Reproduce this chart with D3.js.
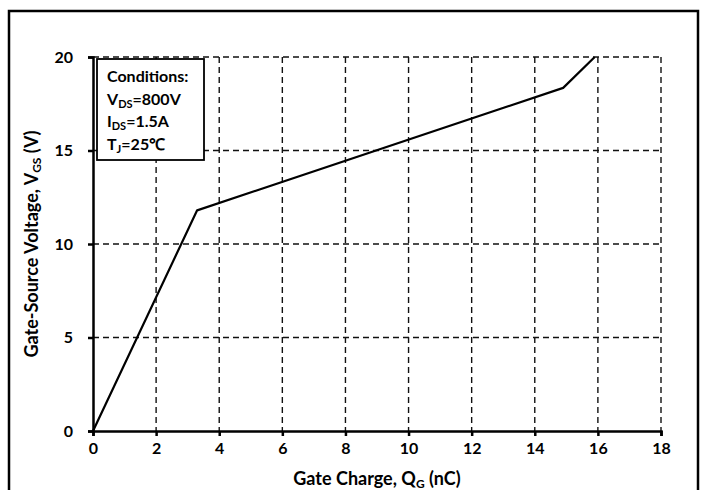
<!DOCTYPE html>
<meta charset="utf-8">
<head>
<style>
  body { margin: 0; background: #fff; }
  text { font-family: Lato, "Open Sans", sans-serif; font-weight: bold; fill: #000; }
</style>
</head>
<body>
<script src="https://d3js.org/d3.v7.min.js"></script>
<script>

// gate charge curve
var qg = [0, 3.3, 14.9, 15.9];
var vgs = [0, 11.8, 18.35, 20];
var xTicks = [0, 2, 4, 6, 8, 10, 12, 14, 16, 18];
var yTicks = [0, 5, 10, 15, 20];
var conditions = [["Conditions:", "", ""], ["V", "DS", "=800V"], ["I", "DS", "=1.5A"], ["T", "J", "=25\u2103"]];

var width = 704, height = 490;
var pLeft = 93, pRight = 661, pTop = 57, pBottom = 431;

var svg = d3.select("body").append("svg")
    .attr("width", width)
    .attr("height", height);

// outer frame (bottom runs off the picture)
svg.append("rect")
  .attr("x", 9).attr("y", 11)
  .attr("width", 689).attr("height", 500)
  .attr("fill", "none").attr("stroke", "#000").attr("stroke-width", 2.5);

var x = d3.scaleLinear().domain([0, 18]).range([pLeft, pRight]);
var y = d3.scaleLinear().domain([0, 20]).range([pBottom, pTop]);

// dashed grid
svg.append("g").selectAll("line")
  .data(xTicks.filter(function(d) { return d > 0; }))
  .enter().append("line")
  .attr("x1", function(d) { return x(d); }).attr("x2", function(d) { return x(d); })
  .attr("y1", pTop).attr("y2", pBottom)
  .attr("stroke", "#111").attr("stroke-width", 1.4).attr("stroke-dasharray", "6,4");

svg.append("g").selectAll("line")
  .data(yTicks.filter(function(d) { return d > 0; }))
  .enter().append("line")
  .attr("x1", pLeft).attr("x2", pRight)
  .attr("y1", function(d) { return y(d); }).attr("y2", function(d) { return y(d); })
  .attr("stroke", "#111").attr("stroke-width", 1.4).attr("stroke-dasharray", "6,4");

// axes
var xAxis = svg.append("g")
  .attr("transform", "translate(0," + pBottom + ")")
  .call(d3.axisBottom(x).tickValues(xTicks).tickSize(5).tickPadding(7));
var yAxis = svg.append("g")
  .attr("transform", "translate(" + pLeft + ",0)")
  .call(d3.axisLeft(y).tickValues(yTicks).tickSize(5).tickPadding(15));

[xAxis, yAxis].forEach(function(a) {
  a.select(".domain").attr("stroke", "#000").attr("stroke-width", 2.5);
  a.selectAll(".tick line").attr("stroke", "#000").attr("stroke-width", 2.5);
  a.selectAll(".tick text").style("font-size", "16px").style("font-family", "Lato, sans-serif")
    .style("font-weight", "bold").attr("fill", "#000");
});

// curve
var line = d3.line()
  .x(function(d, i) { return x(qg[i]); })
  .y(function(d, i) { return y(vgs[i]); });

svg.append("path")
  .datum(qg)
  .attr("d", line)
  .attr("fill", "none")
  .attr("stroke", "#000")
  .attr("stroke-width", 2.2)
  .attr("stroke-linejoin", "round");

// conditions box
svg.append("rect")
  .attr("x", 97).attr("y", 59).attr("width", 107).attr("height", 101)
  .attr("fill", "#fff").attr("stroke", "#000").attr("stroke-width", 1.8);

conditions.forEach(function(c, i) {
  var t = svg.append("text")
    .attr("x", 107).attr("y", 82 + i * 22.7)
    .style("font-size", "16px");
  t.append("tspan").text(c[0]);
  if (c[1]) {
    t.append("tspan").attr("dy", 3).style("font-size", "11px").text(c[1]);
    t.append("tspan").attr("dy", -3).text(c[2]);
  }
});

// axis titles
var xt = svg.append("text")
  .attr("x", 377).attr("y", 485)
  .attr("text-anchor", "middle")
  .style("font-size", "18px");
xt.append("tspan").text("Gate Charge, Q");
xt.append("tspan").attr("dy", 3).style("font-size", "12px").text("G");
xt.append("tspan").attr("dy", -3).text(" (nC)");

var yt = svg.append("text")
  .attr("transform", "translate(38,244) rotate(-90)")
  .attr("text-anchor", "middle")
  .style("font-size", "18px");
yt.append("tspan").text("Gate-Source Voltage, V");
yt.append("tspan").attr("dy", 3).style("font-size", "12px").text("GS");
yt.append("tspan").attr("dy", -3).text(" (V)");

</script>
</body>
